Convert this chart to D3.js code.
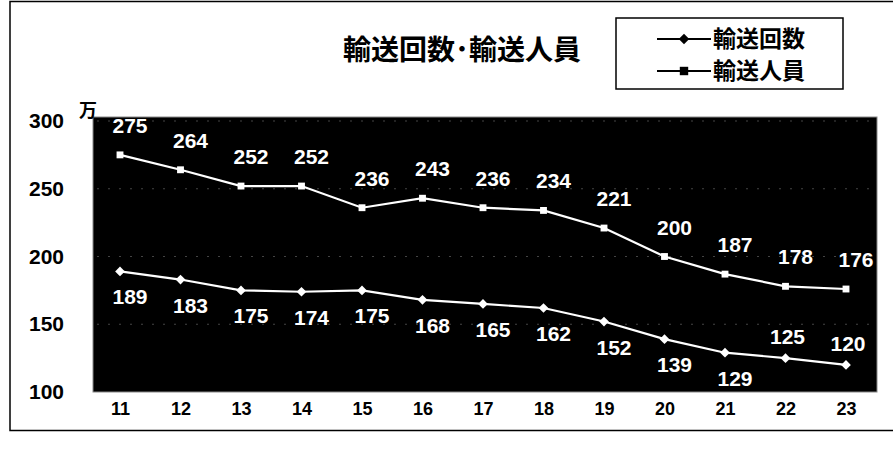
<!DOCTYPE html>
<html><head><meta charset="utf-8">
<script src="https://cdn.jsdelivr.net/npm/d3@7"></script>
<style>
html,body{margin:0;padding:0;background:#fff;}
svg{display:block;}
</style></head>
<body>
<svg id="c" width="893" height="451"></svg>
<script>
const years = ["11","12","13","14","15","16","17","18","19","20","21","22","23"];
const transportCount = [189,183,175,174,175,168,165,162,152,139,129,125,120];
const transportPeople = [275,264,252,252,236,243,236,234,221,200,187,178,176];
const yTicks = [100,150,200,250,300];
const titleText = "輸送回数･輸送人員";
const seriesNames = ["輸送回数","輸送人員"];
const unitText = "万";
// years whose 輸送回数 label sits above the line
const countLabelAbove = new Set(["22","23"]);

const svg = d3.select("#c");
const plot = {left:93, right:877, top:117, bottom:392};
const x = d3.scalePoint().domain(years).range([120,846]);
const y = d3.scaleLinear().domain([100,300]).range([392,121]);

// outer border
svg.append("rect").attr("x",10).attr("y",1.5).attr("width",900).attr("height",429)
  .attr("fill","none").attr("stroke","#000").attr("stroke-width",1.5);

// plot area
svg.append("rect").attr("x",plot.left).attr("y",plot.top)
  .attr("width",plot.right-plot.left).attr("height",plot.bottom-plot.top)
  .attr("fill","#000").attr("stroke","#888").attr("stroke-width",1);

// faint gridlines
svg.append("g").selectAll("line").data(yTicks.filter(t=>t>100)).join("line")
  .attr("x1",plot.left+4).attr("x2",plot.right-4)
  .attr("y1",d=>y(d)).attr("y2",d=>y(d))
  .attr("stroke","#444").attr("stroke-dasharray","2,9").attr("stroke-width",1);

// y axis
const ya = svg.append("g").attr("transform","translate(70,0)")
  .call(d3.axisLeft(y).tickValues(yTicks).tickSize(0).tickPadding(6));
ya.select(".domain").remove();
ya.selectAll("text").attr("font-family","'Liberation Sans',Arial,sans-serif")
  .attr("font-weight","bold").attr("font-size",21).attr("fill","#000");

// x axis
const xa = svg.append("g").attr("transform","translate(0,398)")
  .call(d3.axisBottom(x).tickSize(0).tickPadding(4));
xa.select(".domain").remove();
xa.selectAll("text").attr("font-family","'Liberation Sans Narrow','Liberation Sans',Arial,sans-serif")
  .attr("font-weight","bold").attr("font-size",18).attr("fill","#000");

// unit
svg.append("text").attr("x",88).attr("y",117).attr("text-anchor","middle")
  .attr("font-family","'Noto Sans CJK JP',sans-serif").attr("font-weight","bold")
  .attr("font-size",18).text(unitText);

// title
svg.append("text").attr("x",462).attr("y",60).attr("text-anchor","middle")
  .attr("font-family","'Noto Sans CJK JP',sans-serif").attr("font-weight","bold")
  .attr("font-size",28).attr("fill","#000").text(titleText);

// lines
const line = d3.line().x((d,i)=>x(years[i])).y(d=>y(d));
[transportCount, transportPeople].forEach(s=>{
  svg.append("path").datum(s).attr("d",line).attr("fill","none")
    .attr("stroke","#fff").attr("stroke-width",2.2);
});
svg.append("g").selectAll("path").data(transportCount).join("path")
  .attr("transform",(d,i)=>`translate(${x(years[i])},${y(d)})`)
  .attr("d",d3.symbol(d3.symbolDiamond2,60)).attr("fill","#fff");
svg.append("g").selectAll("path").data(transportPeople).join("path")
  .attr("transform",(d,i)=>`translate(${x(years[i])},${y(d)})`)
  .attr("d",d3.symbol(d3.symbolSquare2,60)).attr("fill","#fff");

// labels
const lblFont = "'Liberation Sans',Arial,sans-serif";
svg.append("g").selectAll("text").data(transportPeople).join("text")
  .attr("x",(d,i)=>x(years[i])+10).attr("y",d=>y(d)-22)
  .attr("text-anchor","middle").attr("font-family",lblFont).attr("font-weight","bold")
  .attr("font-size",21).attr("fill","#fff").text(d=>d);
svg.append("g").selectAll("text").data(transportCount).join("text")
  .attr("x",(d,i)=>x(years[i])+ (countLabelAbove.has(years[i]) ? 2 : 10))
  .attr("y",(d,i)=>countLabelAbove.has(years[i]) ? y(d)-14 : y(d)+33)
  .attr("text-anchor","middle").attr("font-family",lblFont).attr("font-weight","bold")
  .attr("font-size",21).attr("fill","#fff").text(d=>d);

// legend
const lg = svg.append("g");
lg.append("rect").attr("x",616).attr("y",18).attr("width",227).attr("height",71)
  .attr("fill","#fff").attr("stroke","#000").attr("stroke-width",1.5);
const sym = [d3.symbolDiamond2, d3.symbolSquare2];
seriesNames.forEach((n,i)=>{
  const cy = 39 + i*32;
  lg.append("line").attr("x1",657).attr("x2",711).attr("y1",cy).attr("y2",cy)
    .attr("stroke","#000").attr("stroke-width",2);
  lg.append("path").attr("transform",`translate(684,${cy})`)
    .attr("d",d3.symbol(sym[i], i===0?70:90)).attr("fill","#000");
  lg.append("text").attr("x",713).attr("y",cy+8).attr("font-family","'Noto Sans CJK JP',sans-serif")
    .attr("font-weight","bold").attr("font-size",23).attr("fill","#000").text(n);
});
</script>
</body></html>
